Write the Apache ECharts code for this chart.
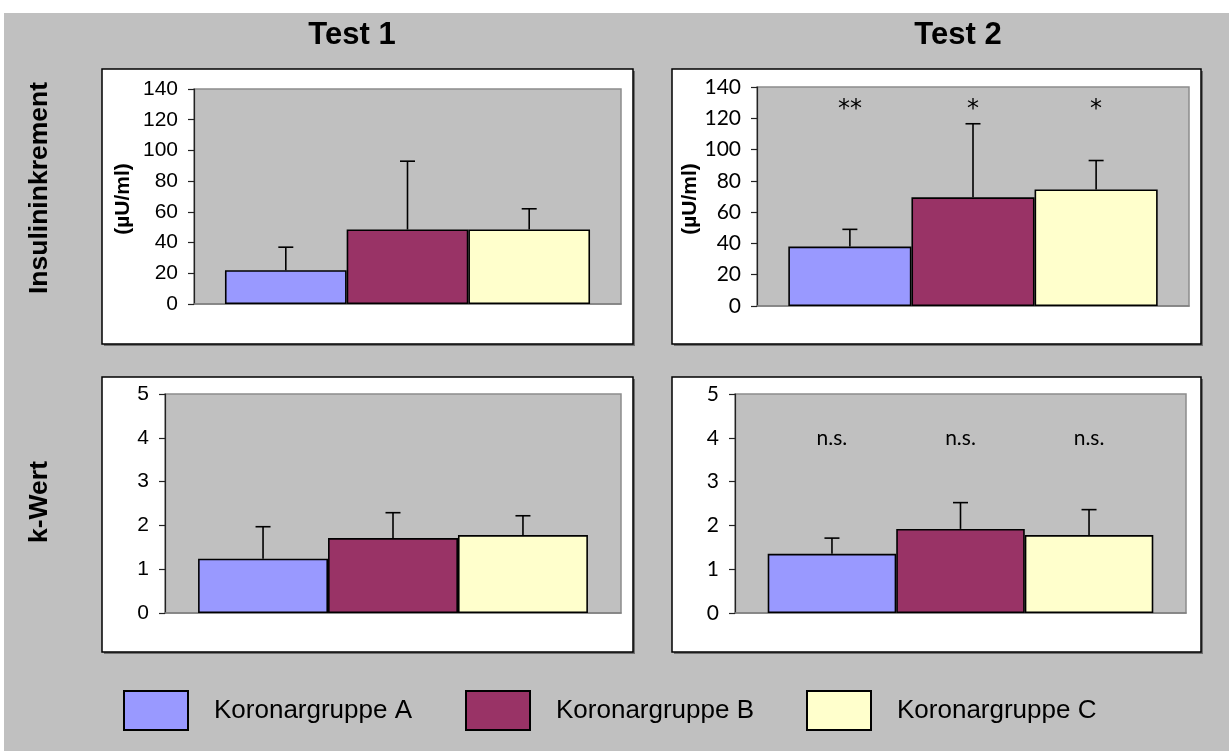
<!DOCTYPE html>
<html>
<head>
<meta charset="utf-8">
<script src="https://cdn.jsdelivr.net/npm/echarts@6/dist/echarts.min.js"></script>
<style>
html,body{margin:0;padding:0;background:#fff;}
#chart{width:1229px;height:751px;}
</style>
</head>
<body>
<div id="chart"></div>
<script>
// ---- data ----
const groups = ['Koronargruppe A', 'Koronargruppe B', 'Koronargruppe C'];
const colors = ['#9999FF', '#993366', '#FFFFCC'];
const category = ['Koronargruppe'];
const columnTitles = ['Test 1', 'Test 2'];
const rowTitles = ['Insulininkrement', 'k-Wert'];
const insulinUnit = '(µU/ml)';

const insulinTest1Mean = [22, 48.5, 48.5];
const insulinTest1SD = [15, 44.5, 13.5];
const insulinTest2Mean = [38, 69.5, 74.5];
const insulinTest2SD = [11, 47, 18.5];
const kTest1Mean = [1.24, 1.71, 1.78];
const kTest1SD = [0.73, 0.58, 0.44];
const kTest2Mean = [1.35, 1.92, 1.78];
const kTest2SD = [0.36, 0.60, 0.58];

const insulinAxis = [0, 140, 20];   // min, max, interval
const kAxis = [0, 5, 1];

const sigInsulinTest2 = ['**', '*', '*'];
const sigKTest2 = ['n.s.', 'n.s.', 'n.s.'];
const sigLevelInsulin = 129;
const sigLevelK = 4;

// ---- layout ----
const ARIAL = "'Liberation Sans', Arial, sans-serif";
const GOTHIC = "Lato, 'Liberation Sans', sans-serif";
const NARROW = "'Liberation Sans Narrow', 'Liberation Sans', Arial, sans-serif";
const GAP = 0.145;

const panels = [
  {box: [102, 69, 531, 275], grid: [194, 89, 427, 215], means: insulinTest1Mean, sds: insulinTest1SD, axis: insulinAxis, font: ARIAL},
  {box: [672, 69, 529, 275], grid: [757, 87, 432, 219], means: insulinTest2Mean, sds: insulinTest2SD, axis: insulinAxis, font: GOTHIC, sig: sigInsulinTest2, sigLevel: sigLevelInsulin, sigFont: "24px 'DejaVu Sans', sans-serif", sigDy: 6},
  {box: [102, 377, 531, 275], grid: [165, 394, 456, 219], means: kTest1Mean, sds: kTest1SD, axis: kAxis, font: ARIAL},
  {box: [672, 377, 529, 275], grid: [735, 394, 451, 219], means: kTest2Mean, sds: kTest2SD, axis: kAxis, font: GOTHIC, sig: sigKTest2, sigLevel: sigLevelK, sigFont: '21px ' + GOTHIC, sigDy: 0}
];

function barOffset(api, i) {
  const band = api.size([1, 0])[0];
  const bw = band * (1 - GAP) / 3;
  return (i - 1) * bw;
}

function errRender(params, api) {
  const i = params.dataIndex;
  const mean = api.value(1), sd = api.value(2);
  const c = api.coord([0, mean]);
  const t = api.coord([0, mean + sd]);
  const x = c[0] + barOffset(api, i);
  const cap = 7.5;
  return {
    type: 'group',
    children: [
      {type: 'line', shape: {x1: x, y1: c[1], x2: x, y2: t[1]}, style: {stroke: '#000', lineWidth: 1.6}},
      {type: 'line', shape: {x1: x - cap, y1: t[1], x2: x + cap, y2: t[1]}, style: {stroke: '#000', lineWidth: 1.6}}
    ]
  };
}

const grids = [], xAxes = [], yAxes = [], series = [];
panels.forEach((p, gi) => {
  grids.push({left: p.grid[0], top: p.grid[1], width: p.grid[2], height: p.grid[3],
    show: true, backgroundColor: '#C0C0C0', borderColor: '#8C8C8C', borderWidth: 1.5});
  xAxes.push({gridIndex: gi, type: 'category', data: category,
    axisLine: {show: true, lineStyle: {color: '#808080', width: 1.5}},
    axisTick: {show: false}, axisLabel: {show: false}, splitLine: {show: false}});
  yAxes.push({gridIndex: gi, type: 'value', min: p.axis[0], max: p.axis[1], interval: p.axis[2],
    axisLine: {show: true, lineStyle: {color: '#222', width: 1.2}},
    axisTick: {show: true, length: 6, lineStyle: {color: '#222', width: 1.2}},
    splitLine: {show: false},
    axisLabel: {fontSize: 21, fontFamily: p.font, color: '#000', margin: 16}});
  groups.forEach((g, s) => {
    series.push({type: 'bar', name: g, xAxisIndex: gi, yAxisIndex: gi,
      data: [p.means[s]], barGap: '0%', barCategoryGap: (GAP * 100) + '%',
      itemStyle: {color: colors[s], borderColor: '#000', borderWidth: 1.6},
      emphasis: {disabled: true}, silent: true, z: 2});
  });
  series.push({type: 'custom', xAxisIndex: gi, yAxisIndex: gi, z: 5, silent: true,
    encode: {x: 0, y: 1},
    data: p.means.map((m, i) => [0, m, p.sds[i]]),
    renderItem: errRender});
  if (p.sig) {
    series.push({type: 'custom', xAxisIndex: gi, yAxisIndex: gi, z: 6, silent: true,
      encode: {x: 0, y: 1},
      data: p.sig.map(t => [0, p.sigLevel]),
      renderItem: function (params, api) {
        const i = params.dataIndex;
        const c = api.coord([0, api.value(1)]);
        return {type: 'text', x: c[0] + barOffset(api, i), y: c[1] + p.sigDy,
          style: {text: p.sig[i], font: p.sigFont, fill: '#000', align: 'center', verticalAlign: 'middle'}};
      }});
  }
});

const graphics = [
  {type: 'rect', shape: {x: 4, y: 13, width: 1225, height: 738}, style: {fill: '#C0C0C0'}, z: -100}
];
panels.forEach(p => {
  graphics.push({type: 'rect', shape: {x: p.box[0] + 2, y: p.box[1] + 2, width: p.box[2], height: p.box[3]}, style: {fill: '#707070'}, z: -90});
  graphics.push({type: 'rect', shape: {x: p.box[0], y: p.box[1], width: p.box[2], height: p.box[3]}, style: {fill: '#fff', stroke: '#000', lineWidth: 1.5}, z: -80});
});
[[352, 35], [958, 35]].forEach((pos, i) => {
  graphics.push({type: 'text', x: pos[0], y: pos[1], z: 100,
    style: {text: columnTitles[i], font: 'bold 31px ' + NARROW, fill: '#000', align: 'center', verticalAlign: 'middle'}});
});
[[40, 188], [40, 502]].forEach((pos, i) => {
  graphics.push({type: 'text', x: pos[0], y: pos[1], rotation: Math.PI / 2, z: 100,
    style: {text: rowTitles[i], font: 'bold 26.5px ' + ARIAL, fill: '#000', align: 'center', verticalAlign: 'middle'}});
});
[[123, 199], [690, 199]].forEach(pos => {
  graphics.push({type: 'text', x: pos[0], y: pos[1], rotation: Math.PI / 2, z: 100,
    style: {text: insulinUnit, font: 'bold 21px ' + ARIAL, fill: '#000', align: 'center', verticalAlign: 'middle'}});
});

const legendLeft = [123, 465, 806];
const legends = groups.map((g, i) => ({
  data: [g], left: legendLeft[i], top: 690, itemWidth: 64, itemHeight: 39, icon: 'rect',
  selectedMode: false, padding: 0,
  textStyle: {fontSize: 26, fontFamily: ARIAL, color: '#000', padding: [0, 0, 0, 21]}
}));

const chart = echarts.init(document.getElementById('chart'), null, {renderer: 'canvas'});
chart.setOption({
  backgroundColor: '#fff',
  animation: false,
  grid: grids, xAxis: xAxes, yAxis: yAxes, series: series,
  legend: legends,
  graphic: graphics
});
</script>
</body>
</html>
